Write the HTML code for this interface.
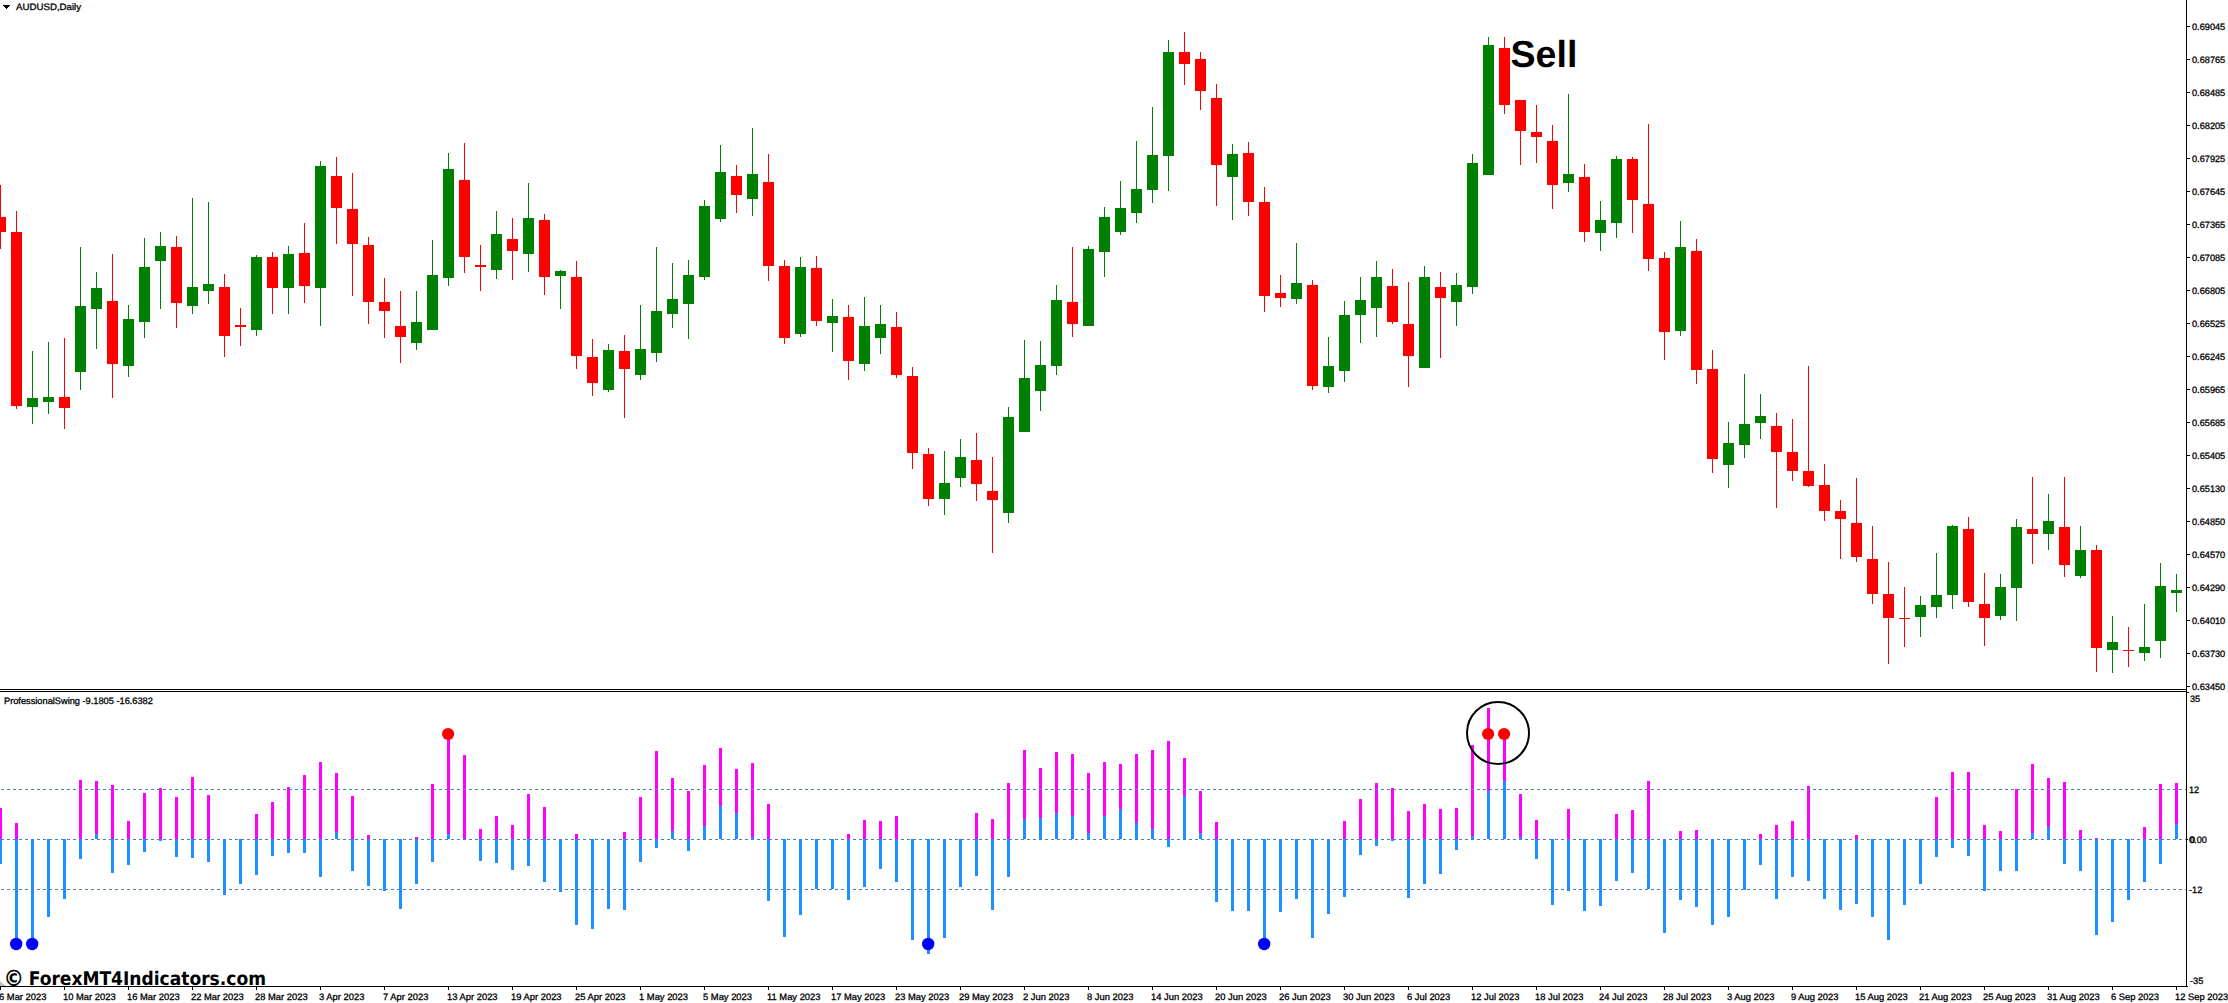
<!DOCTYPE html>
<html><head><meta charset="utf-8"><title>AUDUSD Daily</title>
<style>
html,body{margin:0;padding:0;background:#fff;}
body{text-rendering:geometricPrecision;width:2228px;height:1003px;position:relative;overflow:hidden;font-family:"Liberation Sans",sans-serif;}
svg{position:absolute;left:0;top:0;}
.t{position:absolute;white-space:nowrap;color:#000;font-size:9px;line-height:12px;-webkit-text-stroke:0.3px #000;}
.pl{font-size:9.4px;transform-origin:0 50%;transform:scaleX(0.98);}
.dl{font-size:9.4px;}
#title{left:15.7px;top:1px;font-size:9.4px;transform-origin:0 50%;transform:scaleX(1.033);}
#ind{left:4.3px;top:695px;font-size:9.4px;transform-origin:0 50%;transform:scaleX(0.985);}
#sell{-webkit-text-stroke:0;left:1510.5px;top:31.6px;font-size:37.6px;line-height:44px;font-weight:bold;}
#wm{-webkit-text-stroke:0;left:4.6px;top:968.8px;font-size:18.8px;line-height:22px;transform-origin:0 0;transform:scaleX(0.910);font-weight:bold;font-family:"DejaVu Sans","Liberation Sans",sans-serif;}
</style></head><body>
<svg width="2228" height="1003" viewBox="0 0 2228 1003">
<g shape-rendering="crispEdges">
<rect x="0" y="185" width="1" height="64" fill="#ff0000"/>
<rect x="-5" y="217" width="11" height="15" fill="#ff0000"/>
<rect x="16" y="211" width="1" height="198" fill="#ff0000"/>
<rect x="11" y="232" width="11" height="174" fill="#ff0000"/>
<rect x="32" y="351" width="1" height="73" fill="#008000"/>
<rect x="27" y="398" width="11" height="9" fill="#008000"/>
<rect x="48" y="342" width="1" height="72" fill="#008000"/>
<rect x="43" y="397" width="11" height="5" fill="#008000"/>
<rect x="64" y="338" width="1" height="91" fill="#ff0000"/>
<rect x="59" y="397" width="11" height="11" fill="#ff0000"/>
<rect x="80" y="247" width="1" height="143" fill="#008000"/>
<rect x="75" y="306" width="11" height="66" fill="#008000"/>
<rect x="96" y="272" width="1" height="77" fill="#008000"/>
<rect x="91" y="288" width="11" height="21" fill="#008000"/>
<rect x="112" y="254" width="1" height="144" fill="#ff0000"/>
<rect x="107" y="301" width="11" height="63" fill="#ff0000"/>
<rect x="128" y="305" width="1" height="72" fill="#008000"/>
<rect x="123" y="319" width="11" height="47" fill="#008000"/>
<rect x="144" y="238" width="1" height="100" fill="#008000"/>
<rect x="139" y="267" width="11" height="55" fill="#008000"/>
<rect x="160" y="232" width="1" height="77" fill="#008000"/>
<rect x="155" y="246" width="11" height="15" fill="#008000"/>
<rect x="176" y="236" width="1" height="92" fill="#ff0000"/>
<rect x="171" y="247" width="11" height="56" fill="#ff0000"/>
<rect x="192" y="198" width="1" height="116" fill="#008000"/>
<rect x="187" y="287" width="11" height="19" fill="#008000"/>
<rect x="208" y="202" width="1" height="102" fill="#008000"/>
<rect x="203" y="284" width="11" height="7" fill="#008000"/>
<rect x="224" y="274" width="1" height="83" fill="#ff0000"/>
<rect x="219" y="287" width="11" height="49" fill="#ff0000"/>
<rect x="240" y="308" width="1" height="38" fill="#ff0000"/>
<rect x="235" y="325" width="11" height="2" fill="#ff0000"/>
<rect x="256" y="255" width="1" height="81" fill="#008000"/>
<rect x="251" y="257" width="11" height="73" fill="#008000"/>
<rect x="272" y="252" width="1" height="62" fill="#ff0000"/>
<rect x="267" y="257" width="11" height="31" fill="#ff0000"/>
<rect x="288" y="246" width="1" height="68" fill="#008000"/>
<rect x="283" y="254" width="11" height="34" fill="#008000"/>
<rect x="304" y="223" width="1" height="80" fill="#ff0000"/>
<rect x="299" y="253" width="11" height="33" fill="#ff0000"/>
<rect x="320" y="161" width="1" height="165" fill="#008000"/>
<rect x="315" y="166" width="11" height="122" fill="#008000"/>
<rect x="336" y="157" width="1" height="87" fill="#ff0000"/>
<rect x="331" y="176" width="11" height="32" fill="#ff0000"/>
<rect x="352" y="173" width="1" height="123" fill="#ff0000"/>
<rect x="347" y="209" width="11" height="35" fill="#ff0000"/>
<rect x="368" y="237" width="1" height="87" fill="#ff0000"/>
<rect x="363" y="245" width="11" height="57" fill="#ff0000"/>
<rect x="384" y="278" width="1" height="60" fill="#ff0000"/>
<rect x="379" y="302" width="11" height="9" fill="#ff0000"/>
<rect x="400" y="291" width="1" height="72" fill="#ff0000"/>
<rect x="395" y="326" width="11" height="11" fill="#ff0000"/>
<rect x="416" y="291" width="1" height="59" fill="#008000"/>
<rect x="411" y="322" width="11" height="21" fill="#008000"/>
<rect x="432" y="240" width="1" height="90" fill="#008000"/>
<rect x="427" y="275" width="11" height="55" fill="#008000"/>
<rect x="448" y="153" width="1" height="133" fill="#008000"/>
<rect x="443" y="169" width="11" height="109" fill="#008000"/>
<rect x="464" y="143" width="1" height="130" fill="#ff0000"/>
<rect x="459" y="180" width="11" height="77" fill="#ff0000"/>
<rect x="480" y="245" width="1" height="46" fill="#ff0000"/>
<rect x="475" y="265" width="11" height="2" fill="#ff0000"/>
<rect x="496" y="211" width="1" height="68" fill="#008000"/>
<rect x="491" y="234" width="11" height="36" fill="#008000"/>
<rect x="512" y="218" width="1" height="62" fill="#ff0000"/>
<rect x="507" y="239" width="11" height="12" fill="#ff0000"/>
<rect x="528" y="183" width="1" height="89" fill="#008000"/>
<rect x="523" y="218" width="11" height="36" fill="#008000"/>
<rect x="544" y="214" width="1" height="81" fill="#ff0000"/>
<rect x="539" y="220" width="11" height="57" fill="#ff0000"/>
<rect x="560" y="270" width="1" height="39" fill="#008000"/>
<rect x="555" y="271" width="11" height="5" fill="#008000"/>
<rect x="576" y="261" width="1" height="108" fill="#ff0000"/>
<rect x="571" y="277" width="11" height="79" fill="#ff0000"/>
<rect x="592" y="339" width="1" height="57" fill="#ff0000"/>
<rect x="587" y="357" width="11" height="26" fill="#ff0000"/>
<rect x="608" y="344" width="1" height="48" fill="#008000"/>
<rect x="603" y="350" width="11" height="40" fill="#008000"/>
<rect x="624" y="335" width="1" height="83" fill="#ff0000"/>
<rect x="619" y="351" width="11" height="18" fill="#ff0000"/>
<rect x="640" y="305" width="1" height="75" fill="#008000"/>
<rect x="635" y="349" width="11" height="26" fill="#008000"/>
<rect x="656" y="247" width="1" height="115" fill="#008000"/>
<rect x="651" y="311" width="11" height="42" fill="#008000"/>
<rect x="672" y="263" width="1" height="65" fill="#008000"/>
<rect x="667" y="299" width="11" height="15" fill="#008000"/>
<rect x="688" y="260" width="1" height="79" fill="#008000"/>
<rect x="683" y="275" width="11" height="29" fill="#008000"/>
<rect x="704" y="200" width="1" height="80" fill="#008000"/>
<rect x="699" y="206" width="11" height="71" fill="#008000"/>
<rect x="720" y="145" width="1" height="77" fill="#008000"/>
<rect x="715" y="172" width="11" height="47" fill="#008000"/>
<rect x="736" y="165" width="1" height="48" fill="#ff0000"/>
<rect x="731" y="176" width="11" height="19" fill="#ff0000"/>
<rect x="752" y="128" width="1" height="88" fill="#008000"/>
<rect x="747" y="174" width="11" height="25" fill="#008000"/>
<rect x="768" y="154" width="1" height="127" fill="#ff0000"/>
<rect x="763" y="182" width="11" height="84" fill="#ff0000"/>
<rect x="784" y="260" width="1" height="84" fill="#ff0000"/>
<rect x="779" y="266" width="11" height="72" fill="#ff0000"/>
<rect x="800" y="257" width="1" height="80" fill="#008000"/>
<rect x="795" y="267" width="11" height="67" fill="#008000"/>
<rect x="816" y="256" width="1" height="70" fill="#ff0000"/>
<rect x="811" y="268" width="11" height="53" fill="#ff0000"/>
<rect x="832" y="299" width="1" height="53" fill="#008000"/>
<rect x="827" y="316" width="11" height="7" fill="#008000"/>
<rect x="848" y="305" width="1" height="75" fill="#ff0000"/>
<rect x="843" y="317" width="11" height="44" fill="#ff0000"/>
<rect x="864" y="297" width="1" height="74" fill="#008000"/>
<rect x="859" y="326" width="11" height="38" fill="#008000"/>
<rect x="880" y="305" width="1" height="49" fill="#008000"/>
<rect x="875" y="324" width="11" height="14" fill="#008000"/>
<rect x="896" y="312" width="1" height="66" fill="#ff0000"/>
<rect x="891" y="327" width="11" height="48" fill="#ff0000"/>
<rect x="912" y="367" width="1" height="102" fill="#ff0000"/>
<rect x="907" y="376" width="11" height="77" fill="#ff0000"/>
<rect x="928" y="448" width="1" height="58" fill="#ff0000"/>
<rect x="923" y="454" width="11" height="45" fill="#ff0000"/>
<rect x="944" y="451" width="1" height="64" fill="#008000"/>
<rect x="939" y="483" width="11" height="16" fill="#008000"/>
<rect x="960" y="439" width="1" height="48" fill="#008000"/>
<rect x="955" y="457" width="11" height="21" fill="#008000"/>
<rect x="976" y="433" width="1" height="68" fill="#ff0000"/>
<rect x="971" y="460" width="11" height="24" fill="#ff0000"/>
<rect x="992" y="457" width="1" height="96" fill="#ff0000"/>
<rect x="987" y="491" width="11" height="9" fill="#ff0000"/>
<rect x="1008" y="407" width="1" height="116" fill="#008000"/>
<rect x="1003" y="417" width="11" height="96" fill="#008000"/>
<rect x="1024" y="340" width="1" height="92" fill="#008000"/>
<rect x="1019" y="378" width="11" height="54" fill="#008000"/>
<rect x="1040" y="341" width="1" height="70" fill="#008000"/>
<rect x="1035" y="365" width="11" height="26" fill="#008000"/>
<rect x="1056" y="285" width="1" height="90" fill="#008000"/>
<rect x="1051" y="300" width="11" height="66" fill="#008000"/>
<rect x="1072" y="247" width="1" height="90" fill="#ff0000"/>
<rect x="1067" y="302" width="11" height="22" fill="#ff0000"/>
<rect x="1088" y="246" width="1" height="80" fill="#008000"/>
<rect x="1083" y="249" width="11" height="77" fill="#008000"/>
<rect x="1104" y="207" width="1" height="70" fill="#008000"/>
<rect x="1099" y="217" width="11" height="35" fill="#008000"/>
<rect x="1120" y="181" width="1" height="54" fill="#008000"/>
<rect x="1115" y="208" width="11" height="24" fill="#008000"/>
<rect x="1136" y="141" width="1" height="82" fill="#008000"/>
<rect x="1131" y="189" width="11" height="24" fill="#008000"/>
<rect x="1152" y="107" width="1" height="96" fill="#008000"/>
<rect x="1147" y="155" width="11" height="35" fill="#008000"/>
<rect x="1168" y="40" width="1" height="151" fill="#008000"/>
<rect x="1163" y="52" width="11" height="104" fill="#008000"/>
<rect x="1184" y="32" width="1" height="53" fill="#ff0000"/>
<rect x="1179" y="52" width="11" height="12" fill="#ff0000"/>
<rect x="1200" y="52" width="1" height="58" fill="#ff0000"/>
<rect x="1195" y="59" width="11" height="32" fill="#ff0000"/>
<rect x="1216" y="84" width="1" height="122" fill="#ff0000"/>
<rect x="1211" y="98" width="11" height="67" fill="#ff0000"/>
<rect x="1232" y="144" width="1" height="76" fill="#008000"/>
<rect x="1227" y="154" width="11" height="23" fill="#008000"/>
<rect x="1248" y="142" width="1" height="74" fill="#ff0000"/>
<rect x="1243" y="153" width="11" height="49" fill="#ff0000"/>
<rect x="1264" y="187" width="1" height="125" fill="#ff0000"/>
<rect x="1259" y="202" width="11" height="94" fill="#ff0000"/>
<rect x="1280" y="275" width="1" height="32" fill="#ff0000"/>
<rect x="1275" y="293" width="11" height="5" fill="#ff0000"/>
<rect x="1296" y="243" width="1" height="61" fill="#008000"/>
<rect x="1291" y="283" width="11" height="16" fill="#008000"/>
<rect x="1312" y="280" width="1" height="110" fill="#ff0000"/>
<rect x="1307" y="285" width="11" height="101" fill="#ff0000"/>
<rect x="1328" y="337" width="1" height="56" fill="#008000"/>
<rect x="1323" y="366" width="11" height="21" fill="#008000"/>
<rect x="1344" y="301" width="1" height="81" fill="#008000"/>
<rect x="1339" y="315" width="11" height="56" fill="#008000"/>
<rect x="1360" y="277" width="1" height="66" fill="#008000"/>
<rect x="1355" y="300" width="11" height="15" fill="#008000"/>
<rect x="1376" y="261" width="1" height="76" fill="#008000"/>
<rect x="1371" y="277" width="11" height="31" fill="#008000"/>
<rect x="1392" y="269" width="1" height="55" fill="#ff0000"/>
<rect x="1387" y="286" width="11" height="36" fill="#ff0000"/>
<rect x="1408" y="282" width="1" height="105" fill="#ff0000"/>
<rect x="1403" y="324" width="11" height="32" fill="#ff0000"/>
<rect x="1424" y="266" width="1" height="102" fill="#008000"/>
<rect x="1419" y="277" width="11" height="91" fill="#008000"/>
<rect x="1440" y="272" width="1" height="86" fill="#ff0000"/>
<rect x="1435" y="287" width="11" height="11" fill="#ff0000"/>
<rect x="1456" y="273" width="1" height="53" fill="#008000"/>
<rect x="1451" y="285" width="11" height="17" fill="#008000"/>
<rect x="1472" y="154" width="1" height="140" fill="#008000"/>
<rect x="1467" y="163" width="11" height="124" fill="#008000"/>
<rect x="1488" y="37" width="1" height="138" fill="#008000"/>
<rect x="1483" y="45" width="11" height="130" fill="#008000"/>
<rect x="1504" y="37" width="1" height="77" fill="#ff0000"/>
<rect x="1499" y="48" width="11" height="57" fill="#ff0000"/>
<rect x="1520" y="100" width="1" height="65" fill="#ff0000"/>
<rect x="1515" y="100" width="11" height="31" fill="#ff0000"/>
<rect x="1536" y="105" width="1" height="58" fill="#ff0000"/>
<rect x="1531" y="132" width="11" height="5" fill="#ff0000"/>
<rect x="1552" y="125" width="1" height="84" fill="#ff0000"/>
<rect x="1547" y="141" width="11" height="44" fill="#ff0000"/>
<rect x="1568" y="94" width="1" height="98" fill="#008000"/>
<rect x="1563" y="174" width="11" height="9" fill="#008000"/>
<rect x="1584" y="164" width="1" height="78" fill="#ff0000"/>
<rect x="1579" y="177" width="11" height="55" fill="#ff0000"/>
<rect x="1600" y="201" width="1" height="50" fill="#008000"/>
<rect x="1595" y="220" width="11" height="13" fill="#008000"/>
<rect x="1616" y="156" width="1" height="82" fill="#008000"/>
<rect x="1611" y="159" width="11" height="64" fill="#008000"/>
<rect x="1632" y="157" width="1" height="76" fill="#ff0000"/>
<rect x="1627" y="159" width="11" height="41" fill="#ff0000"/>
<rect x="1648" y="124" width="1" height="147" fill="#ff0000"/>
<rect x="1643" y="204" width="11" height="55" fill="#ff0000"/>
<rect x="1664" y="252" width="1" height="108" fill="#ff0000"/>
<rect x="1659" y="258" width="11" height="74" fill="#ff0000"/>
<rect x="1680" y="221" width="1" height="115" fill="#008000"/>
<rect x="1675" y="247" width="11" height="84" fill="#008000"/>
<rect x="1696" y="239" width="1" height="145" fill="#ff0000"/>
<rect x="1691" y="251" width="11" height="119" fill="#ff0000"/>
<rect x="1712" y="350" width="1" height="123" fill="#ff0000"/>
<rect x="1707" y="369" width="11" height="90" fill="#ff0000"/>
<rect x="1728" y="422" width="1" height="66" fill="#008000"/>
<rect x="1723" y="443" width="11" height="22" fill="#008000"/>
<rect x="1744" y="374" width="1" height="84" fill="#008000"/>
<rect x="1739" y="424" width="11" height="21" fill="#008000"/>
<rect x="1760" y="394" width="1" height="45" fill="#008000"/>
<rect x="1755" y="416" width="11" height="7" fill="#008000"/>
<rect x="1776" y="413" width="1" height="95" fill="#ff0000"/>
<rect x="1771" y="426" width="11" height="26" fill="#ff0000"/>
<rect x="1792" y="419" width="1" height="62" fill="#ff0000"/>
<rect x="1787" y="452" width="11" height="19" fill="#ff0000"/>
<rect x="1808" y="366" width="1" height="121" fill="#ff0000"/>
<rect x="1803" y="471" width="11" height="15" fill="#ff0000"/>
<rect x="1824" y="464" width="1" height="57" fill="#ff0000"/>
<rect x="1819" y="485" width="11" height="26" fill="#ff0000"/>
<rect x="1840" y="500" width="1" height="59" fill="#ff0000"/>
<rect x="1835" y="511" width="11" height="8" fill="#ff0000"/>
<rect x="1856" y="478" width="1" height="84" fill="#ff0000"/>
<rect x="1851" y="523" width="11" height="34" fill="#ff0000"/>
<rect x="1872" y="526" width="1" height="78" fill="#ff0000"/>
<rect x="1867" y="559" width="11" height="35" fill="#ff0000"/>
<rect x="1888" y="562" width="1" height="102" fill="#ff0000"/>
<rect x="1883" y="594" width="11" height="24" fill="#ff0000"/>
<rect x="1904" y="587" width="1" height="60" fill="#ff0000"/>
<rect x="1899" y="618" width="11" height="1" fill="#ff0000"/>
<rect x="1920" y="596" width="1" height="41" fill="#008000"/>
<rect x="1915" y="605" width="11" height="12" fill="#008000"/>
<rect x="1936" y="553" width="1" height="65" fill="#008000"/>
<rect x="1931" y="595" width="11" height="12" fill="#008000"/>
<rect x="1952" y="525" width="1" height="84" fill="#008000"/>
<rect x="1947" y="526" width="11" height="69" fill="#008000"/>
<rect x="1968" y="517" width="1" height="90" fill="#ff0000"/>
<rect x="1963" y="529" width="11" height="73" fill="#ff0000"/>
<rect x="1984" y="573" width="1" height="73" fill="#ff0000"/>
<rect x="1979" y="604" width="11" height="14" fill="#ff0000"/>
<rect x="2000" y="574" width="1" height="46" fill="#008000"/>
<rect x="1995" y="587" width="11" height="29" fill="#008000"/>
<rect x="2016" y="519" width="1" height="102" fill="#008000"/>
<rect x="2011" y="527" width="11" height="61" fill="#008000"/>
<rect x="2032" y="477" width="1" height="87" fill="#ff0000"/>
<rect x="2027" y="529" width="11" height="5" fill="#ff0000"/>
<rect x="2048" y="494" width="1" height="56" fill="#008000"/>
<rect x="2043" y="521" width="11" height="13" fill="#008000"/>
<rect x="2064" y="477" width="1" height="100" fill="#ff0000"/>
<rect x="2059" y="527" width="11" height="38" fill="#ff0000"/>
<rect x="2080" y="526" width="1" height="52" fill="#008000"/>
<rect x="2075" y="550" width="11" height="26" fill="#008000"/>
<rect x="2096" y="545" width="1" height="127" fill="#ff0000"/>
<rect x="2091" y="550" width="11" height="98" fill="#ff0000"/>
<rect x="2112" y="616" width="1" height="57" fill="#008000"/>
<rect x="2107" y="642" width="11" height="8" fill="#008000"/>
<rect x="2128" y="627" width="1" height="40" fill="#ff0000"/>
<rect x="2123" y="650" width="11" height="1" fill="#ff0000"/>
<rect x="2144" y="604" width="1" height="57" fill="#008000"/>
<rect x="2139" y="647" width="11" height="6" fill="#008000"/>
<rect x="2160" y="563" width="1" height="95" fill="#008000"/>
<rect x="2155" y="586" width="11" height="55" fill="#008000"/>
<rect x="2176" y="574" width="1" height="38" fill="#008000"/>
<rect x="2171" y="590" width="11" height="3" fill="#008000"/>
<rect x="-1" y="808" width="3" height="31" fill="#ff00ff"/>
<rect x="15" y="823" width="3" height="16" fill="#ff00ff"/>
<rect x="79" y="780" width="3" height="59" fill="#ff00ff"/>
<rect x="95" y="781" width="3" height="58" fill="#ff00ff"/>
<rect x="111" y="785" width="3" height="54" fill="#ff00ff"/>
<rect x="127" y="821" width="3" height="18" fill="#ff00ff"/>
<rect x="143" y="793" width="3" height="46" fill="#ff00ff"/>
<rect x="159" y="788" width="3" height="51" fill="#ff00ff"/>
<rect x="175" y="797" width="3" height="42" fill="#ff00ff"/>
<rect x="191" y="777" width="3" height="62" fill="#ff00ff"/>
<rect x="207" y="795" width="3" height="44" fill="#ff00ff"/>
<rect x="255" y="814" width="3" height="25" fill="#ff00ff"/>
<rect x="271" y="802" width="3" height="37" fill="#ff00ff"/>
<rect x="287" y="787" width="3" height="52" fill="#ff00ff"/>
<rect x="303" y="775" width="3" height="64" fill="#ff00ff"/>
<rect x="319" y="762" width="3" height="77" fill="#ff00ff"/>
<rect x="335" y="773" width="3" height="66" fill="#ff00ff"/>
<rect x="351" y="796" width="3" height="43" fill="#ff00ff"/>
<rect x="367" y="835" width="3" height="4" fill="#ff00ff"/>
<rect x="415" y="837" width="3" height="2" fill="#ff00ff"/>
<rect x="431" y="784" width="3" height="55" fill="#ff00ff"/>
<rect x="447" y="734" width="3" height="105" fill="#ff00ff"/>
<rect x="463" y="755" width="3" height="84" fill="#ff00ff"/>
<rect x="479" y="829" width="3" height="10" fill="#ff00ff"/>
<rect x="495" y="816" width="3" height="23" fill="#ff00ff"/>
<rect x="511" y="825" width="3" height="14" fill="#ff00ff"/>
<rect x="527" y="794" width="3" height="45" fill="#ff00ff"/>
<rect x="543" y="807" width="3" height="32" fill="#ff00ff"/>
<rect x="575" y="834" width="3" height="5" fill="#ff00ff"/>
<rect x="623" y="832" width="3" height="7" fill="#ff00ff"/>
<rect x="639" y="797" width="3" height="42" fill="#ff00ff"/>
<rect x="655" y="751" width="3" height="88" fill="#ff00ff"/>
<rect x="671" y="778" width="3" height="61" fill="#ff00ff"/>
<rect x="687" y="791" width="3" height="48" fill="#ff00ff"/>
<rect x="703" y="765" width="3" height="74" fill="#ff00ff"/>
<rect x="719" y="748" width="3" height="91" fill="#ff00ff"/>
<rect x="735" y="769" width="3" height="70" fill="#ff00ff"/>
<rect x="751" y="763" width="3" height="76" fill="#ff00ff"/>
<rect x="767" y="804" width="3" height="35" fill="#ff00ff"/>
<rect x="847" y="834" width="3" height="5" fill="#ff00ff"/>
<rect x="863" y="820" width="3" height="19" fill="#ff00ff"/>
<rect x="879" y="821" width="3" height="18" fill="#ff00ff"/>
<rect x="895" y="816" width="3" height="23" fill="#ff00ff"/>
<rect x="975" y="813" width="3" height="26" fill="#ff00ff"/>
<rect x="991" y="819" width="3" height="20" fill="#ff00ff"/>
<rect x="1007" y="783" width="3" height="56" fill="#ff00ff"/>
<rect x="1023" y="750" width="3" height="89" fill="#ff00ff"/>
<rect x="1039" y="768" width="3" height="71" fill="#ff00ff"/>
<rect x="1055" y="752" width="3" height="87" fill="#ff00ff"/>
<rect x="1071" y="754" width="3" height="85" fill="#ff00ff"/>
<rect x="1087" y="773" width="3" height="66" fill="#ff00ff"/>
<rect x="1103" y="762" width="3" height="77" fill="#ff00ff"/>
<rect x="1119" y="764" width="3" height="75" fill="#ff00ff"/>
<rect x="1135" y="754" width="3" height="85" fill="#ff00ff"/>
<rect x="1151" y="750" width="3" height="89" fill="#ff00ff"/>
<rect x="1167" y="741" width="3" height="98" fill="#ff00ff"/>
<rect x="1183" y="758" width="3" height="81" fill="#ff00ff"/>
<rect x="1199" y="791" width="3" height="48" fill="#ff00ff"/>
<rect x="1215" y="822" width="3" height="17" fill="#ff00ff"/>
<rect x="1343" y="821" width="3" height="18" fill="#ff00ff"/>
<rect x="1359" y="799" width="3" height="40" fill="#ff00ff"/>
<rect x="1375" y="783" width="3" height="56" fill="#ff00ff"/>
<rect x="1391" y="788" width="3" height="51" fill="#ff00ff"/>
<rect x="1407" y="811" width="3" height="28" fill="#ff00ff"/>
<rect x="1423" y="804" width="3" height="35" fill="#ff00ff"/>
<rect x="1439" y="809" width="3" height="30" fill="#ff00ff"/>
<rect x="1455" y="808" width="3" height="31" fill="#ff00ff"/>
<rect x="1471" y="745" width="3" height="94" fill="#ff00ff"/>
<rect x="1487" y="708" width="3" height="131" fill="#ff00ff"/>
<rect x="1503" y="734" width="3" height="105" fill="#ff00ff"/>
<rect x="1519" y="794" width="3" height="45" fill="#ff00ff"/>
<rect x="1535" y="820" width="3" height="19" fill="#ff00ff"/>
<rect x="1567" y="809" width="3" height="30" fill="#ff00ff"/>
<rect x="1615" y="814" width="3" height="25" fill="#ff00ff"/>
<rect x="1631" y="810" width="3" height="29" fill="#ff00ff"/>
<rect x="1647" y="781" width="3" height="58" fill="#ff00ff"/>
<rect x="1679" y="831" width="3" height="8" fill="#ff00ff"/>
<rect x="1695" y="830" width="3" height="9" fill="#ff00ff"/>
<rect x="1759" y="834" width="3" height="5" fill="#ff00ff"/>
<rect x="1775" y="825" width="3" height="14" fill="#ff00ff"/>
<rect x="1791" y="821" width="3" height="18" fill="#ff00ff"/>
<rect x="1807" y="786" width="3" height="53" fill="#ff00ff"/>
<rect x="1855" y="835" width="3" height="4" fill="#ff00ff"/>
<rect x="1935" y="797" width="3" height="42" fill="#ff00ff"/>
<rect x="1951" y="772" width="3" height="67" fill="#ff00ff"/>
<rect x="1967" y="772" width="3" height="67" fill="#ff00ff"/>
<rect x="1983" y="825" width="3" height="14" fill="#ff00ff"/>
<rect x="1999" y="831" width="3" height="8" fill="#ff00ff"/>
<rect x="2015" y="789" width="3" height="50" fill="#ff00ff"/>
<rect x="2031" y="764" width="3" height="75" fill="#ff00ff"/>
<rect x="2047" y="778" width="3" height="61" fill="#ff00ff"/>
<rect x="2063" y="782" width="3" height="57" fill="#ff00ff"/>
<rect x="2079" y="830" width="3" height="9" fill="#ff00ff"/>
<rect x="2095" y="838" width="3" height="1" fill="#ff00ff"/>
<rect x="2143" y="827" width="3" height="12" fill="#ff00ff"/>
<rect x="2159" y="784" width="3" height="55" fill="#ff00ff"/>
<rect x="2175" y="783" width="3" height="56" fill="#ff00ff"/>
<rect x="-1" y="839" width="3" height="25" fill="#1e90ff"/>
<rect x="15" y="839" width="3" height="105" fill="#1e90ff"/>
<rect x="31" y="839" width="3" height="105" fill="#1e90ff"/>
<rect x="47" y="839" width="3" height="78" fill="#1e90ff"/>
<rect x="63" y="839" width="3" height="60" fill="#1e90ff"/>
<rect x="79" y="839" width="3" height="20" fill="#1e90ff"/>
<rect x="95" y="834" width="3" height="5" fill="#1e90ff"/>
<rect x="111" y="839" width="3" height="34" fill="#1e90ff"/>
<rect x="127" y="839" width="3" height="26" fill="#1e90ff"/>
<rect x="143" y="839" width="3" height="13" fill="#1e90ff"/>
<rect x="159" y="839" width="3" height="2" fill="#1e90ff"/>
<rect x="175" y="839" width="3" height="18" fill="#1e90ff"/>
<rect x="191" y="839" width="3" height="19" fill="#1e90ff"/>
<rect x="207" y="839" width="3" height="23" fill="#1e90ff"/>
<rect x="223" y="839" width="3" height="56" fill="#1e90ff"/>
<rect x="239" y="839" width="3" height="45" fill="#1e90ff"/>
<rect x="255" y="839" width="3" height="36" fill="#1e90ff"/>
<rect x="271" y="839" width="3" height="17" fill="#1e90ff"/>
<rect x="287" y="839" width="3" height="14" fill="#1e90ff"/>
<rect x="303" y="839" width="3" height="14" fill="#1e90ff"/>
<rect x="319" y="839" width="3" height="38" fill="#1e90ff"/>
<rect x="335" y="832" width="3" height="7" fill="#1e90ff"/>
<rect x="351" y="839" width="3" height="32" fill="#1e90ff"/>
<rect x="367" y="839" width="3" height="47" fill="#1e90ff"/>
<rect x="383" y="839" width="3" height="52" fill="#1e90ff"/>
<rect x="399" y="839" width="3" height="70" fill="#1e90ff"/>
<rect x="415" y="839" width="3" height="45" fill="#1e90ff"/>
<rect x="431" y="839" width="3" height="23" fill="#1e90ff"/>
<rect x="447" y="834" width="3" height="5" fill="#1e90ff"/>
<rect x="479" y="839" width="3" height="22" fill="#1e90ff"/>
<rect x="495" y="839" width="3" height="24" fill="#1e90ff"/>
<rect x="511" y="839" width="3" height="31" fill="#1e90ff"/>
<rect x="527" y="839" width="3" height="27" fill="#1e90ff"/>
<rect x="543" y="839" width="3" height="43" fill="#1e90ff"/>
<rect x="559" y="839" width="3" height="53" fill="#1e90ff"/>
<rect x="575" y="839" width="3" height="86" fill="#1e90ff"/>
<rect x="591" y="839" width="3" height="90" fill="#1e90ff"/>
<rect x="607" y="839" width="3" height="70" fill="#1e90ff"/>
<rect x="623" y="839" width="3" height="71" fill="#1e90ff"/>
<rect x="639" y="839" width="3" height="23" fill="#1e90ff"/>
<rect x="655" y="839" width="3" height="9" fill="#1e90ff"/>
<rect x="671" y="831" width="3" height="8" fill="#1e90ff"/>
<rect x="687" y="839" width="3" height="12" fill="#1e90ff"/>
<rect x="703" y="826" width="3" height="13" fill="#1e90ff"/>
<rect x="719" y="806" width="3" height="33" fill="#1e90ff"/>
<rect x="735" y="813" width="3" height="26" fill="#1e90ff"/>
<rect x="751" y="837" width="3" height="2" fill="#1e90ff"/>
<rect x="767" y="839" width="3" height="62" fill="#1e90ff"/>
<rect x="783" y="839" width="3" height="98" fill="#1e90ff"/>
<rect x="799" y="839" width="3" height="76" fill="#1e90ff"/>
<rect x="815" y="839" width="3" height="50" fill="#1e90ff"/>
<rect x="831" y="839" width="3" height="50" fill="#1e90ff"/>
<rect x="847" y="839" width="3" height="61" fill="#1e90ff"/>
<rect x="863" y="839" width="3" height="48" fill="#1e90ff"/>
<rect x="879" y="839" width="3" height="30" fill="#1e90ff"/>
<rect x="895" y="839" width="3" height="43" fill="#1e90ff"/>
<rect x="911" y="839" width="3" height="101" fill="#1e90ff"/>
<rect x="927" y="839" width="3" height="115" fill="#1e90ff"/>
<rect x="943" y="839" width="3" height="99" fill="#1e90ff"/>
<rect x="959" y="839" width="3" height="48" fill="#1e90ff"/>
<rect x="975" y="839" width="3" height="37" fill="#1e90ff"/>
<rect x="991" y="839" width="3" height="71" fill="#1e90ff"/>
<rect x="1007" y="839" width="3" height="38" fill="#1e90ff"/>
<rect x="1023" y="819" width="3" height="20" fill="#1e90ff"/>
<rect x="1039" y="818" width="3" height="21" fill="#1e90ff"/>
<rect x="1055" y="813" width="3" height="26" fill="#1e90ff"/>
<rect x="1071" y="816" width="3" height="23" fill="#1e90ff"/>
<rect x="1087" y="833" width="3" height="6" fill="#1e90ff"/>
<rect x="1103" y="816" width="3" height="23" fill="#1e90ff"/>
<rect x="1119" y="809" width="3" height="30" fill="#1e90ff"/>
<rect x="1135" y="823" width="3" height="16" fill="#1e90ff"/>
<rect x="1151" y="829" width="3" height="10" fill="#1e90ff"/>
<rect x="1167" y="839" width="3" height="8" fill="#1e90ff"/>
<rect x="1183" y="796" width="3" height="43" fill="#1e90ff"/>
<rect x="1199" y="833" width="3" height="6" fill="#1e90ff"/>
<rect x="1215" y="839" width="3" height="63" fill="#1e90ff"/>
<rect x="1231" y="839" width="3" height="72" fill="#1e90ff"/>
<rect x="1247" y="839" width="3" height="72" fill="#1e90ff"/>
<rect x="1263" y="839" width="3" height="105" fill="#1e90ff"/>
<rect x="1279" y="839" width="3" height="73" fill="#1e90ff"/>
<rect x="1295" y="839" width="3" height="60" fill="#1e90ff"/>
<rect x="1311" y="839" width="3" height="99" fill="#1e90ff"/>
<rect x="1327" y="839" width="3" height="75" fill="#1e90ff"/>
<rect x="1343" y="839" width="3" height="58" fill="#1e90ff"/>
<rect x="1359" y="839" width="3" height="16" fill="#1e90ff"/>
<rect x="1375" y="839" width="3" height="7" fill="#1e90ff"/>
<rect x="1391" y="839" width="3" height="2" fill="#1e90ff"/>
<rect x="1407" y="839" width="3" height="59" fill="#1e90ff"/>
<rect x="1423" y="839" width="3" height="45" fill="#1e90ff"/>
<rect x="1439" y="839" width="3" height="35" fill="#1e90ff"/>
<rect x="1455" y="839" width="3" height="11" fill="#1e90ff"/>
<rect x="1471" y="836" width="3" height="3" fill="#1e90ff"/>
<rect x="1487" y="791" width="3" height="48" fill="#1e90ff"/>
<rect x="1503" y="781" width="3" height="58" fill="#1e90ff"/>
<rect x="1519" y="837" width="3" height="2" fill="#1e90ff"/>
<rect x="1535" y="839" width="3" height="20" fill="#1e90ff"/>
<rect x="1551" y="839" width="3" height="66" fill="#1e90ff"/>
<rect x="1567" y="839" width="3" height="52" fill="#1e90ff"/>
<rect x="1583" y="839" width="3" height="72" fill="#1e90ff"/>
<rect x="1599" y="839" width="3" height="67" fill="#1e90ff"/>
<rect x="1615" y="839" width="3" height="42" fill="#1e90ff"/>
<rect x="1631" y="839" width="3" height="34" fill="#1e90ff"/>
<rect x="1647" y="839" width="3" height="50" fill="#1e90ff"/>
<rect x="1663" y="839" width="3" height="94" fill="#1e90ff"/>
<rect x="1679" y="839" width="3" height="61" fill="#1e90ff"/>
<rect x="1695" y="839" width="3" height="68" fill="#1e90ff"/>
<rect x="1711" y="839" width="3" height="86" fill="#1e90ff"/>
<rect x="1727" y="839" width="3" height="78" fill="#1e90ff"/>
<rect x="1743" y="839" width="3" height="51" fill="#1e90ff"/>
<rect x="1759" y="839" width="3" height="26" fill="#1e90ff"/>
<rect x="1775" y="839" width="3" height="60" fill="#1e90ff"/>
<rect x="1791" y="839" width="3" height="38" fill="#1e90ff"/>
<rect x="1807" y="839" width="3" height="42" fill="#1e90ff"/>
<rect x="1823" y="839" width="3" height="60" fill="#1e90ff"/>
<rect x="1839" y="839" width="3" height="71" fill="#1e90ff"/>
<rect x="1855" y="839" width="3" height="65" fill="#1e90ff"/>
<rect x="1871" y="839" width="3" height="78" fill="#1e90ff"/>
<rect x="1887" y="839" width="3" height="101" fill="#1e90ff"/>
<rect x="1903" y="839" width="3" height="66" fill="#1e90ff"/>
<rect x="1919" y="839" width="3" height="45" fill="#1e90ff"/>
<rect x="1935" y="839" width="3" height="18" fill="#1e90ff"/>
<rect x="1951" y="839" width="3" height="9" fill="#1e90ff"/>
<rect x="1967" y="839" width="3" height="17" fill="#1e90ff"/>
<rect x="1983" y="839" width="3" height="52" fill="#1e90ff"/>
<rect x="1999" y="839" width="3" height="32" fill="#1e90ff"/>
<rect x="2015" y="839" width="3" height="32" fill="#1e90ff"/>
<rect x="2031" y="833" width="3" height="6" fill="#1e90ff"/>
<rect x="2047" y="827" width="3" height="12" fill="#1e90ff"/>
<rect x="2063" y="839" width="3" height="25" fill="#1e90ff"/>
<rect x="2079" y="839" width="3" height="32" fill="#1e90ff"/>
<rect x="2095" y="839" width="3" height="96" fill="#1e90ff"/>
<rect x="2111" y="839" width="3" height="83" fill="#1e90ff"/>
<rect x="2127" y="839" width="3" height="61" fill="#1e90ff"/>
<rect x="2143" y="839" width="3" height="43" fill="#1e90ff"/>
<rect x="2159" y="839" width="3" height="25" fill="#1e90ff"/>
<rect x="2175" y="824" width="3" height="15" fill="#1e90ff"/>
<line x1="1" y1="789.5" x2="2186" y2="789.5" stroke="#4682b4" stroke-width="1" stroke-dasharray="3 3"/>
<line x1="1" y1="839.5" x2="2186" y2="839.5" stroke="#4682b4" stroke-width="1" stroke-dasharray="3 3"/>
<line x1="1" y1="889.5" x2="2186" y2="889.5" stroke="#4682b4" stroke-width="1" stroke-dasharray="3 3"/>
<rect x="2186" y="0" width="1" height="987" fill="#000"/>
<rect x="0" y="689" width="2187" height="1" fill="#000"/>
<rect x="0" y="691" width="2187" height="1" fill="#000"/>
<rect x="0" y="986" width="2188" height="1" fill="#000"/>
<rect x="2187" y="26" width="3" height="1" fill="#000"/>
<rect x="2187" y="59" width="3" height="1" fill="#000"/>
<rect x="2187" y="92" width="3" height="1" fill="#000"/>
<rect x="2187" y="125" width="3" height="1" fill="#000"/>
<rect x="2187" y="158" width="3" height="1" fill="#000"/>
<rect x="2187" y="191" width="3" height="1" fill="#000"/>
<rect x="2187" y="224" width="3" height="1" fill="#000"/>
<rect x="2187" y="257" width="3" height="1" fill="#000"/>
<rect x="2187" y="290" width="3" height="1" fill="#000"/>
<rect x="2187" y="323" width="3" height="1" fill="#000"/>
<rect x="2187" y="356" width="3" height="1" fill="#000"/>
<rect x="2187" y="389" width="3" height="1" fill="#000"/>
<rect x="2187" y="422" width="3" height="1" fill="#000"/>
<rect x="2187" y="455" width="3" height="1" fill="#000"/>
<rect x="2187" y="488" width="3" height="1" fill="#000"/>
<rect x="2187" y="521" width="3" height="1" fill="#000"/>
<rect x="2187" y="554" width="3" height="1" fill="#000"/>
<rect x="2187" y="587" width="3" height="1" fill="#000"/>
<rect x="2187" y="620" width="3" height="1" fill="#000"/>
<rect x="2187" y="653" width="3" height="1" fill="#000"/>
<rect x="2187" y="686" width="3" height="1" fill="#000"/>
<rect x="2187" y="839" width="1" height="1" fill="#000"/>
<rect x="2187" y="692" width="2" height="1" fill="#000"/>
<rect x="0" y="987" width="1" height="3" fill="#000"/>
<rect x="64" y="987" width="1" height="3" fill="#000"/>
<rect x="128" y="987" width="1" height="3" fill="#000"/>
<rect x="192" y="987" width="1" height="3" fill="#000"/>
<rect x="256" y="987" width="1" height="3" fill="#000"/>
<rect x="320" y="987" width="1" height="3" fill="#000"/>
<rect x="384" y="987" width="1" height="3" fill="#000"/>
<rect x="448" y="987" width="1" height="3" fill="#000"/>
<rect x="512" y="987" width="1" height="3" fill="#000"/>
<rect x="576" y="987" width="1" height="3" fill="#000"/>
<rect x="640" y="987" width="1" height="3" fill="#000"/>
<rect x="704" y="987" width="1" height="3" fill="#000"/>
<rect x="768" y="987" width="1" height="3" fill="#000"/>
<rect x="832" y="987" width="1" height="3" fill="#000"/>
<rect x="896" y="987" width="1" height="3" fill="#000"/>
<rect x="960" y="987" width="1" height="3" fill="#000"/>
<rect x="1024" y="987" width="1" height="3" fill="#000"/>
<rect x="1088" y="987" width="1" height="3" fill="#000"/>
<rect x="1152" y="987" width="1" height="3" fill="#000"/>
<rect x="1216" y="987" width="1" height="3" fill="#000"/>
<rect x="1280" y="987" width="1" height="3" fill="#000"/>
<rect x="1344" y="987" width="1" height="3" fill="#000"/>
<rect x="1408" y="987" width="1" height="3" fill="#000"/>
<rect x="1472" y="987" width="1" height="3" fill="#000"/>
<rect x="1536" y="987" width="1" height="3" fill="#000"/>
<rect x="1600" y="987" width="1" height="3" fill="#000"/>
<rect x="1664" y="987" width="1" height="3" fill="#000"/>
<rect x="1728" y="987" width="1" height="3" fill="#000"/>
<rect x="1792" y="987" width="1" height="3" fill="#000"/>
<rect x="1856" y="987" width="1" height="3" fill="#000"/>
<rect x="1920" y="987" width="1" height="3" fill="#000"/>
<rect x="1984" y="987" width="1" height="3" fill="#000"/>
<rect x="2048" y="987" width="1" height="3" fill="#000"/>
<rect x="2112" y="987" width="1" height="3" fill="#000"/>
<rect x="2176" y="987" width="1" height="3" fill="#000"/>
<polygon points="2,5 10,5 6,9" fill="#000"/>
</g>
<polygon points="0,981 0,986 6,986" fill="#c0c0c0"/>
<circle cx="16.2" cy="944" r="6.2" fill="#0000ff"/>
<circle cx="32.2" cy="944" r="6.2" fill="#0000ff"/>
<circle cx="928.2" cy="944" r="6.2" fill="#0000ff"/>
<circle cx="1264.2" cy="944" r="6.2" fill="#0000ff"/>
<circle cx="448.1" cy="734" r="6.1" fill="#ff0000"/>
<circle cx="1488.1" cy="734" r="6.1" fill="#ff0000"/>
<circle cx="1504.1" cy="734" r="6.1" fill="#ff0000"/>
<circle cx="1498" cy="733" r="31" fill="none" stroke="#000" stroke-width="2"/>
</svg>
<div class="t" id="title">AUDUSD,Daily</div>
<div class="t" id="ind">ProfessionalSwing -9.1805 -16.6382</div>
<div class="t" id="sell">Sell</div>
<div class="t" id="wm"><span style="font-size:1.2em;line-height:0;margin-left:-1.6px;margin-right:-1.5px;position:relative;top:1px">©</span> ForexMT4Indicators.com</div>
<div class="t pl" style="left:2192px;top:20.5px">0.69045</div>
<div class="t pl" style="left:2192px;top:53.5px">0.68765</div>
<div class="t pl" style="left:2192px;top:86.5px">0.68485</div>
<div class="t pl" style="left:2192px;top:119.5px">0.68205</div>
<div class="t pl" style="left:2192px;top:152.5px">0.67925</div>
<div class="t pl" style="left:2192px;top:185.5px">0.67645</div>
<div class="t pl" style="left:2192px;top:218.5px">0.67365</div>
<div class="t pl" style="left:2192px;top:251.5px">0.67085</div>
<div class="t pl" style="left:2192px;top:284.5px">0.66805</div>
<div class="t pl" style="left:2192px;top:317.5px">0.66525</div>
<div class="t pl" style="left:2192px;top:350.5px">0.66245</div>
<div class="t pl" style="left:2192px;top:383.5px">0.65965</div>
<div class="t pl" style="left:2192px;top:416.5px">0.65685</div>
<div class="t pl" style="left:2192px;top:449.5px">0.65405</div>
<div class="t pl" style="left:2192px;top:482.5px">0.65130</div>
<div class="t pl" style="left:2192px;top:515.5px">0.64850</div>
<div class="t pl" style="left:2192px;top:548.5px">0.64570</div>
<div class="t pl" style="left:2192px;top:581.5px">0.64290</div>
<div class="t pl" style="left:2192px;top:614.5px">0.64010</div>
<div class="t pl" style="left:2192px;top:647.5px">0.63730</div>
<div class="t pl" style="left:2192px;top:680.5px">0.63450</div>
<div class="t pl" style="left:2190px;top:692.5px">35</div>
<div class="t pl" style="left:2189px;top:783.5px">12</div>
<div class="t pl" style="left:2189px;top:833.5px">0.00</div>
<div class="t pl" style="left:2189px;top:883.5px">-12</div>
<div class="t pl" style="left:2190px;top:974.5px">-35</div>
<div class="t dl" style="left:-1px;top:991px">6 Mar 2023</div>
<div class="t dl" style="left:63px;top:991px">10 Mar 2023</div>
<div class="t dl" style="left:127px;top:991px">16 Mar 2023</div>
<div class="t dl" style="left:191px;top:991px">22 Mar 2023</div>
<div class="t dl" style="left:255px;top:991px">28 Mar 2023</div>
<div class="t dl" style="left:319px;top:991px">3 Apr 2023</div>
<div class="t dl" style="left:383px;top:991px">7 Apr 2023</div>
<div class="t dl" style="left:447px;top:991px">13 Apr 2023</div>
<div class="t dl" style="left:511px;top:991px">19 Apr 2023</div>
<div class="t dl" style="left:575px;top:991px">25 Apr 2023</div>
<div class="t dl" style="left:639px;top:991px">1 May 2023</div>
<div class="t dl" style="left:703px;top:991px">5 May 2023</div>
<div class="t dl" style="left:767px;top:991px">11 May 2023</div>
<div class="t dl" style="left:831px;top:991px">17 May 2023</div>
<div class="t dl" style="left:895px;top:991px">23 May 2023</div>
<div class="t dl" style="left:959px;top:991px">29 May 2023</div>
<div class="t dl" style="left:1023px;top:991px">2 Jun 2023</div>
<div class="t dl" style="left:1087px;top:991px">8 Jun 2023</div>
<div class="t dl" style="left:1151px;top:991px">14 Jun 2023</div>
<div class="t dl" style="left:1215px;top:991px">20 Jun 2023</div>
<div class="t dl" style="left:1279px;top:991px">26 Jun 2023</div>
<div class="t dl" style="left:1343px;top:991px">30 Jun 2023</div>
<div class="t dl" style="left:1407px;top:991px">6 Jul 2023</div>
<div class="t dl" style="left:1471px;top:991px">12 Jul 2023</div>
<div class="t dl" style="left:1535px;top:991px">18 Jul 2023</div>
<div class="t dl" style="left:1599px;top:991px">24 Jul 2023</div>
<div class="t dl" style="left:1663px;top:991px">28 Jul 2023</div>
<div class="t dl" style="left:1727px;top:991px">3 Aug 2023</div>
<div class="t dl" style="left:1791px;top:991px">9 Aug 2023</div>
<div class="t dl" style="left:1855px;top:991px">15 Aug 2023</div>
<div class="t dl" style="left:1919px;top:991px">21 Aug 2023</div>
<div class="t dl" style="left:1983px;top:991px">25 Aug 2023</div>
<div class="t dl" style="left:2047px;top:991px">31 Aug 2023</div>
<div class="t dl" style="left:2111px;top:991px">6 Sep 2023</div>
<div class="t dl" style="left:2175px;top:991px">12 Sep 2023</div>
<div class="t pl" style="left:2190px;top:833.5px">0</div>
</body></html>
